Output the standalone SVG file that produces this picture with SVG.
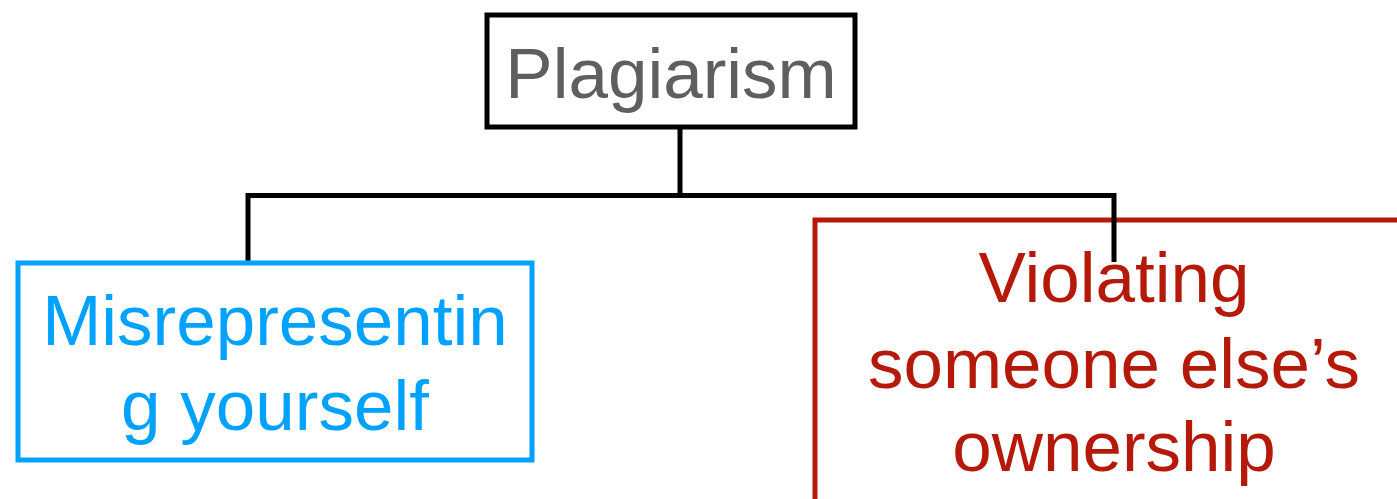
<svg xmlns="http://www.w3.org/2000/svg" width="1397" height="499" viewBox="0 0 1397 499">
  <style>
    .box { fill: #ffffff; stroke-width: 5; }
    .label { font-family: "Liberation Sans", Arial, sans-serif; font-size: 71px; text-anchor: middle; }
    .link { fill: none; stroke: #000000; stroke-width: 5; }
  </style>
  <rect width="1397" height="499" fill="#ffffff"/>
  <g id="node-violating">
    <rect class="box" x="815" y="220" width="600" height="300" stroke="#b5190a"/>
  </g>
  <g id="connectors">
    <path class="link" d="M680 127 V195.5 M248 263 V195.5 H1114 V262"/>
  </g>
  <g id="node-plagiarism">
    <rect class="box" x="487" y="15" width="368" height="112" stroke="#000000" stroke-width="4.5"/>
    <text class="label" x="671" y="98" fill="#5f5f5f">Plagiarism</text>
  </g>
  <g id="node-misrepresenting">
    <rect class="box" x="18" y="263" width="514" height="197" stroke="#00a2ff"/>
    <text class="label" x="275" y="345" fill="#00a2ff">Misrepresentin</text>
    <text class="label" x="275" y="430" fill="#00a2ff">g yourself</text>
  </g>
  <g id="node-violating-text">
    <text class="label" x="1114" y="302" fill="#b5190a">Violating</text>
    <text class="label" x="1114" y="388" fill="#b5190a">someone else’s</text>
    <text class="label" x="1114" y="471" fill="#b5190a">ownership</text>
  </g>
</svg>
